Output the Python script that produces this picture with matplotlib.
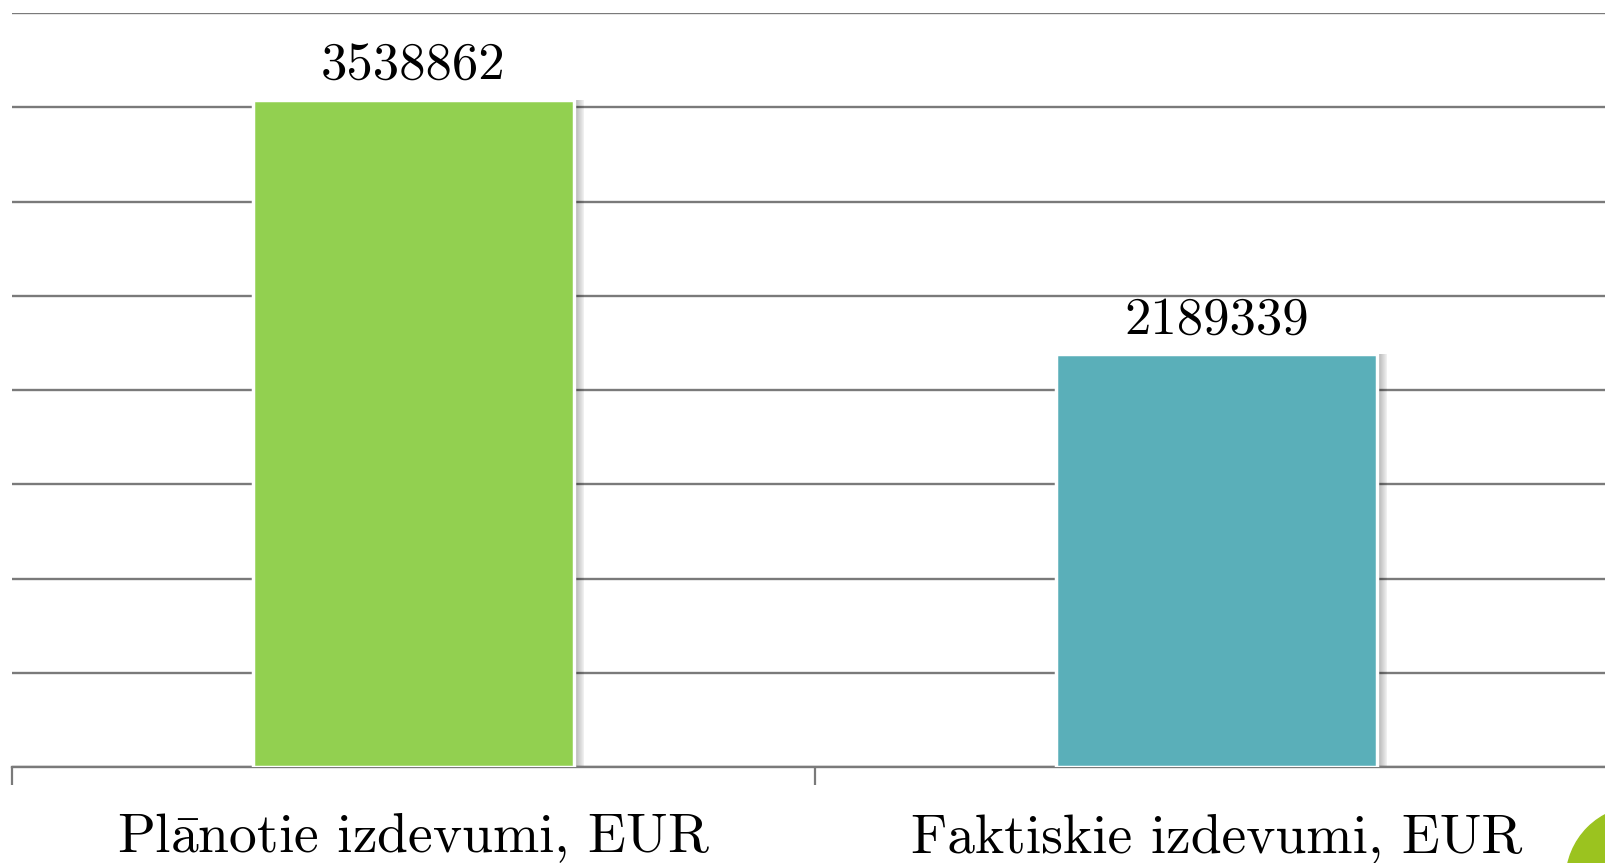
import matplotlib
matplotlib.use('Agg')
import matplotlib.pyplot as plt
from matplotlib.patches import Circle
from matplotlib.transforms import IdentityTransform

categories = ['Pl$\\bar{\\mathrm{a}}$notie izdevumi, EUR', 'Faktiskie izdevumi, EUR']
values = [3538862, 2189339]
bar_colors = ['#92D050', '#5AAFB9']

plt.rcParams['font.family'] = ['cmr10', 'DejaVu Serif']
plt.rcParams['mathtext.fontset'] = 'cm'
plt.rcParams['axes.formatter.use_mathtext'] = True

W, H = 1606, 863
fig = plt.figure(figsize=(W / 100, H / 100), dpi=100)
# axes run off the right edge, like the slide crop
ax = fig.add_axes([12 / W, 96 / H, 1606 / W, 754 / H])

x = list(range(len(categories)))

# soft shadow on the right side of each bar
for k in range(10):
    ax.bar([i + 0.003 + k * 0.0011 for i in x], values, width=0.4,
           color='#000000', alpha=0.03, zorder=2, linewidth=0)
ax.bar(x, values, width=0.4, color=bar_colors, edgecolor='white',
       linewidth=2.5, zorder=3)

for i, v in zip(x, values):
    ax.text(i, v + 110000, str(v), ha='center', va='baseline', fontsize=38,
            color='black', zorder=4)

ax.set_xlim(-0.5, 1.5)
ax.set_ylim(0, 4000000)
ax.set_yticks(range(0, 4000001, 500000))
ax.yaxis.grid(True, color='#7a7a7a', linewidth=1.7, zorder=0)
ax.set_axisbelow(True)
ax.tick_params(axis='y', left=False, labelleft=False)

ax.set_xticks([])
ax.set_xticks([-0.5, 0.5, 1.5], minor=True)
ax.tick_params(axis='x', which='minor', length=13, width=1.6, color='#7a7a7a')

for s in ['top', 'right', 'left']:
    ax.spines[s].set_visible(False)
ax.spines['bottom'].set_color('#7a7a7a')
ax.spines['bottom'].set_linewidth(1.7)

# category labels sit at the very bottom of the image
for i, c in zip(x, categories):
    px = 12 + 803 * (i + 0.5)
    fig.text(px / W, 11 / H, c, ha='center', va='baseline', fontsize=40)

fig.add_artist(Circle((1640, -17), 74, transform=IdentityTransform(),
                      color='#9BC31F', zorder=5))

fig.savefig('out.png', dpi=100)
